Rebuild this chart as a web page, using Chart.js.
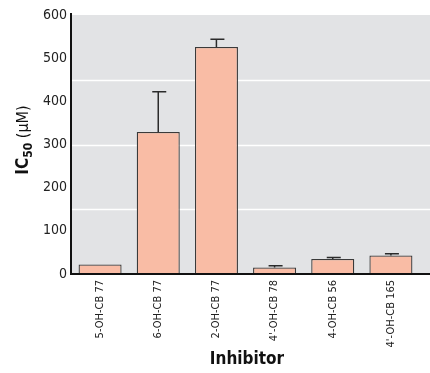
<!DOCTYPE html>
<html>
<head>
<meta charset="utf-8">
<script src="https://cdn.jsdelivr.net/npm/chart.js@4"></script>
<style>
  html, body { margin: 0; padding: 0; background: #fff; }
  #wrap { width: 430px; height: 373px; position: relative; }
</style>
</head>
<body>
<div id="wrap"><canvas id="ic50_chart"></canvas></div>
<script>
const inhibitors = ["5-OH-CB 77", "6-OH-CB 77", "2-OH-CB 77", "4'-OH-CB 78", "4-OH-CB 56", "4'-OH-CB 165"];
const ic50Values = [22, 329, 526, 15, 35, 43];
const ic50Errors = [0, 93, 18, 4, 3, 4];
const bandLines = [150, 300, 450];
const yTicks = [0, 100, 200, 300, 400, 500, 600];

const FONT = "'Liberation Sans Narrow', 'DejaVu Sans Condensed', 'Liberation Sans', sans-serif";
const cxt = document.getElementById("ic50_chart").getContext("2d");

// grey panel, white bands, error bars, axis lines and titles
const panel = {
  id: "panel",
  beforeDraw: (chart) => {
    const { ctx, chartArea, scales } = chart;
    ctx.save();
    ctx.fillStyle = "#e2e3e5";
    ctx.fillRect(chartArea.left, chartArea.top, chart.width - chartArea.left, chartArea.bottom - chartArea.top);
    ctx.strokeStyle = "#ffffff";
    ctx.lineWidth = 1.5;
    bandLines.forEach((v) => {
      const y = Math.round(scales.y.getPixelForValue(v)) + 0.5;
      ctx.beginPath();
      ctx.moveTo(chartArea.left, y);
      ctx.lineTo(chart.width, y);
      ctx.stroke();
    });
    ctx.restore();
  },
  afterDatasetsDraw: (chart) => {
    const { ctx, chartArea, scales } = chart;
    ctx.save();
    ctx.strokeStyle = "#2b2b2b";
    ctx.lineWidth = 1.5;
    ic50Values.forEach((v, i) => {
      if (!ic50Errors[i]) return;
      const x = scales.x.getPixelForValue(i);
      const y0 = scales.y.getPixelForValue(v);
      const y1 = scales.y.getPixelForValue(v + ic50Errors[i]);
      ctx.beginPath();
      ctx.moveTo(x, y0);
      ctx.lineTo(x, y1);
      ctx.moveTo(x - 6, y1);
      ctx.lineTo(x + 8, y1);
      ctx.stroke();
    });
    ctx.strokeStyle = "#111";
    ctx.lineWidth = 2;
    ctx.beginPath();
    ctx.moveTo(chartArea.left, chartArea.top - 2);
    ctx.lineTo(chartArea.left, chartArea.bottom);
    ctx.lineTo(chart.width, chartArea.bottom);
    ctx.stroke();
    ctx.fillStyle = "#111";
    ctx.textAlign = "center";
    ctx.textBaseline = "middle";
    ctx.font = "bold 17px " + FONT;
    ctx.fillText("Inhibitor", 247, 360);
    ctx.translate(22, 140);
    ctx.rotate(-Math.PI / 2);
    ctx.textAlign = "left";
    ctx.textBaseline = "alphabetic";
    const parts = [
      { t: "IC", f: "bold 17px " + FONT, dy: 0 },
      { t: "50", f: "bold 12px " + FONT, dy: 4 },
      { t: " (\u03bcM)", f: "16px " + FONT, dy: 0 },
    ];
    let w = 0;
    parts.forEach((p) => { ctx.font = p.f; w += ctx.measureText(p.t).width; });
    let x = -w / 2;
    parts.forEach((p) => {
      ctx.font = p.f;
      ctx.fillText(p.t, x, 6 + p.dy);
      x += ctx.measureText(p.t).width;
    });
    ctx.restore();
  },
};

new Chart(cxt, {
  type: "bar",
  data: {
    labels: inhibitors,
    datasets: [
      {
        data: ic50Values,
        backgroundColor: "#f9bca5",
        borderColor: "#3a3a3a",
        borderWidth: 1.3,
        barPercentage: 0.74,
        categoryPercentage: 1,
      },
    ],
  },
  options: {
    responsive: true,
    maintainAspectRatio: false,
    animation: false,
    layout: { padding: { top: 15, right: 10, left: 0, bottom: 0 } },
    plugins: { legend: { display: false }, tooltip: { enabled: false } },
    scales: {
      x: {
        grid: { display: false, drawTicks: false },
        border: { display: false },
        ticks: {
          color: "#222",
          font: { family: FONT, size: 11 },
          minRotation: 90,
          maxRotation: 90,
          padding: 6,
        },
        afterFit: (scale) => { scale.height = 99; },
      },
      y: {
        min: 0,
        max: 600,
        grid: { display: false, drawTicks: false },
        border: { display: false },
        afterBuildTicks: (scale) => { scale.ticks = yTicks.map((v) => ({ value: v })); },
        ticks: {
          color: "#222",
          font: { family: FONT, size: 14 },
          padding: 4,
        },
        afterFit: (scale) => { scale.width = 71; },
      },
    },
  },
  plugins: [panel],
});
</script>
</body>
</html>
